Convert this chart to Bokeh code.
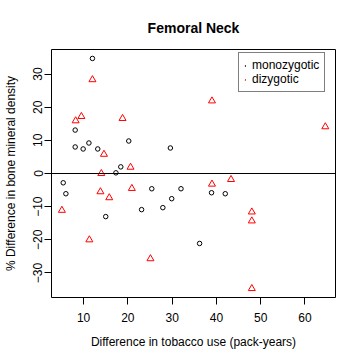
import math
from bokeh.plotting import figure
from bokeh.models import Range1d, FixedTicker, Span
from bokeh.embed import file_html
from bokeh.resources import INLINE

# Data
mono_x = [12.0, 8.1, 8.1, 9.9, 11.2, 13.2, 20.2, 29.6, 18.4, 17.3, 5.4,
          6.0, 15.0, 23.1, 25.4, 27.9, 29.9, 32.0, 38.9, 42.0, 36.2]
mono_y = [34.7, 13.1, 8.0, 7.4, 9.2, 7.4, 9.8, 7.7, 2.0, 0.2, -2.8,
          -6.1, -13.0, -10.9, -4.6, -10.3, -7.6, -4.6, -5.8, -6.1, -21.1]
di_x = [12.0, 9.5, 8.2, 18.8, 14.6, 20.6, 14.0, 39.0, 64.6, 43.3,
        5.1, 13.8, 15.8, 20.9, 11.3, 25.1, 39.0, 48.0, 48.0, 48.0]
di_y = [28.3, 17.2, 15.9, 16.6, 5.8, 1.9, 0.0, 21.9, 14.1, -1.8,
        -11.1, -5.5, -7.3, -4.5, -20.0, -25.7, -3.2, -11.6, -14.3, -34.7]
x_ticks = [10, 20, 30, 40, 50, 60]
y_ticks = [-30, -20, -10, 0, 10, 20, 30]

FONT = "Liberation Sans"

p = figure(width=352, height=352,
           output_backend="svg", toolbar_location=None,
           x_range=Range1d(2.75, 66.9), y_range=Range1d(-37.4, 37.4),
           min_border_left=50, min_border_right=17, min_border_top=49,
           min_border_bottom=55, title="Femoral Neck")
p.background_fill_color = "white"
p.border_fill_color = "white"
p.outline_line_color = "black"
p.outline_line_width = 1
p.xgrid.visible = False
p.ygrid.visible = False

p.title.align = "center"
p.title.text_font = FONT
p.title.text_font_size = "14px"
p.title.text_font_style = "bold"
p.title.text_color = "black"
p.title.standoff = 28

for ax in (p.xaxis[0], p.yaxis[0]):
    ax.axis_line_color = None
    ax.major_tick_line_color = "black"
    ax.major_tick_in = 0
    ax.major_tick_out = 7
    ax.minor_tick_line_color = None
    ax.major_label_text_font = FONT
    ax.major_label_text_font_size = "12px"
    ax.major_label_text_color = "black"
    ax.axis_label_text_font = FONT
    ax.axis_label_text_font_size = "12px"
    ax.axis_label_text_font_style = "normal"
    ax.axis_label_text_color = "black"

p.xaxis[0].ticker = FixedTicker(ticks=x_ticks)
p.yaxis[0].ticker = FixedTicker(ticks=y_ticks)
p.xaxis[0].axis_label = "Difference in tobacco use (pack-years)"
p.yaxis[0].axis_label = "% Difference in bone mineral density"
p.xaxis[0].major_label_standoff = 8
p.xaxis[0].axis_label_standoff = 10
p.yaxis[0].major_label_orientation = "parallel"
p.yaxis[0].major_label_standoff = 2
p.yaxis[0].axis_label_standoff = 13

p.add_layout(Span(location=0, dimension="width", line_color="black", line_width=1))

p.scatter(mono_x, mono_y, marker="circle", size=4.5, fill_color=None,
          line_color="black", line_width=1, legend_label="monozygotic")
p.scatter(di_x, di_y, marker="triangle", size=7, fill_color=None,
          line_color="red", line_width=1, legend_label="dizygotic")

lg = p.legend[0]
lg.location = (187, 205)
lg.label_text_font = FONT
lg.label_text_font_size = "12px"
lg.label_text_color = "black"
lg.label_height = 13
lg.glyph_height = 13
lg.glyph_width = 2
lg.label_standoff = 6
lg.spacing = 0
lg.padding = 5
lg.margin = 0
lg.border_line_color = "black"
lg.border_line_width = 1
lg.background_fill_color = "white"
lg.background_fill_alpha = 1

open("out.html", "w").write(file_html(p, INLINE))
